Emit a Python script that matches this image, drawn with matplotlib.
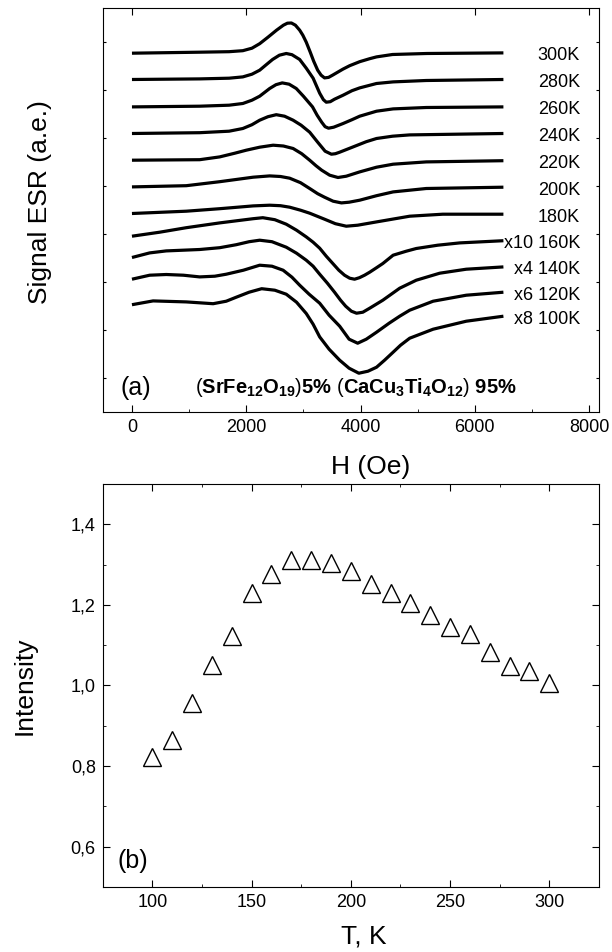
import matplotlib
matplotlib.use('Agg')
import matplotlib.pyplot as plt
from matplotlib.ticker import FuncFormatter, MultipleLocator

plt.rcParams['font.family'] = 'Liberation Sans'
plt.rcParams['mathtext.fontset'] = 'custom'
plt.rcParams['mathtext.rm'] = 'Liberation Sans'
plt.rcParams['mathtext.bf'] = 'Liberation Sans:bold'

# ESR spectra: H in Oe, signal in a.e. (curves already stacked)
h300 = [0, 1185, 1700, 1940, 2100, 2235, 2380, 2530, 2650, 2720, 2790, 2860, 2935, 2990, 3050,
        3120, 3180, 3250, 3310, 3370, 3440, 3510, 3600, 3690, 3810, 3985, 4160, 4280, 4560, 5160, 6500]
s300 = [359, 360, 360.5, 361.5, 364, 368.5, 375, 382, 387, 389, 389.2, 387, 382, 377, 370,
        360, 351, 342, 337, 334.3, 334.8, 337, 340, 343, 346.5, 350.5, 353.5, 355.3, 357.7, 358.7, 359.3]

h280 = [0, 1185, 1700, 1940, 2100, 2235, 2350, 2460, 2580, 2700, 2800, 2935, 3050, 3170, 3285,
        3350, 3400, 3470, 3545, 3695, 3850, 3985, 4280, 4570, 5150, 6500]
s280 = [332.7, 333.3, 334, 335.3, 338, 342, 347.5, 352.7, 357, 358.7, 357.5, 352.7, 344, 334, 319,
        312.5, 310, 310.5, 313, 317, 321.5, 324.3, 328.7, 330.3, 331.7, 332.7]

h260 = [0, 1185, 1700, 1940, 2100, 2235, 2410, 2520, 2630, 2750, 2875, 3000, 3160, 3240, 3320,
        3380, 3440, 3530, 3695, 3850, 3985, 4280, 4570, 5150, 6500]
s260 = [305.3, 306, 307, 308.7, 312, 316, 323.7, 327.5, 329.3, 328, 323.7, 316, 305.3, 297, 290,
        285.5, 284, 285, 288.7, 292.5, 296, 301, 303.3, 304.7, 305.3]

h240 = [0, 1185, 1700, 1940, 2100, 2235, 2380, 2525, 2670, 2820, 2960, 3110, 3250, 3380, 3490,
        3560, 3635, 3870, 4100, 4280, 4560, 4860, 6500]
s240 = [278.7, 279.5, 281, 283.7, 287.5, 292, 295.5, 297.5, 296, 292, 287, 280, 270, 261, 258,
        258.5, 260, 265.3, 270.5, 273.7, 276, 277.3, 278.7]

h220 = [0, 1185, 1535, 1800, 2000, 2235, 2470, 2650, 2820, 2970, 3110, 3220, 3320, 3460, 3605,
        3750, 3985, 4280, 4570, 5150, 6500]
s220 = [252, 252.5, 255.3, 259, 262, 265, 267, 266.2, 263.7, 258.5, 252, 246.5, 242, 237, 234.7,
        236, 240.3, 245, 248, 250.3, 251.5]

h200 = [0, 950, 1535, 2120, 2410, 2600, 2760, 2950, 3110, 3250, 3370, 3520, 3665, 3800, 3985,
        4280, 4570, 5150, 6500]
s200 = [225.3, 226.5, 230.5, 235, 236.3, 235.7, 234, 229.5, 223.7, 218.5, 215, 211, 209.3, 210, 212,
        216.5, 220.3, 223.7, 225]

h180 = [0, 950, 1535, 2120, 2410, 2600, 2760, 2950, 3110, 3370, 3560, 3750, 3950, 4280, 4860, 5440, 6500]
s180 = [198.7, 201, 203.5, 206.3, 207, 206.5, 205, 202, 199, 193, 188.5, 186, 187, 190.3, 196, 198, 198]

h160 = [0, 485, 950, 1535, 2120, 2290, 2500, 2700, 2880, 3050, 3170, 3285, 3400, 3510, 3620,
        3720, 3810, 3895, 3980, 4070, 4160, 4280, 4390, 4570, 4800, 4975, 5350, 5735, 6500]
s160 = [176, 180, 184.5, 189.3, 193.5, 194.5, 192.5, 188, 182, 175.3, 170, 164, 156, 149, 142,
        137, 134, 133, 134.5, 137, 140, 144.5, 148.7, 157, 161, 163.7, 167, 169.3, 171.5]

h140 = [0, 310, 600, 1185, 1535, 1825, 2050, 2235, 2450, 2700, 2880, 3050, 3170, 3285, 3420,
        3545, 3650, 3740, 3840, 3930, 4040, 4160, 4390, 4685, 4975, 5385, 5850, 6500]
s140 = [154.7, 159.3, 161.3, 162.7, 164.5, 167.5, 170.5, 172, 170.5, 165, 159, 152, 146, 138, 129,
        120, 112, 106, 101, 99, 100, 104, 112, 124, 132, 139, 143, 145.3]

h120 = [0, 310, 600, 900, 1185, 1450, 1650, 1950, 2235, 2450, 2645, 2800, 2935, 3100, 3285,
        3450, 3635, 3800, 3950, 4100, 4280, 4500, 4685, 4860, 5270, 5850, 6500]
s120 = [133, 137, 137.7, 137, 135.3, 136, 138, 142, 147, 146, 142, 135, 127, 118, 109,
        97, 86, 73, 69, 73, 80, 89, 96, 102, 111, 117, 120]

h100 = [0, 370, 950, 1420, 1650, 1825, 2050, 2270, 2500, 2700, 2880, 3050, 3170, 3285, 3450,
        3635, 3800, 3970, 4130, 4280, 4420, 4570, 4700, 4860, 5270, 5850, 6500]
s100 = [107.5, 111.3, 110.3, 108.5, 111, 115, 120, 123.5, 122, 118, 110, 98.7, 88, 75.3, 63,
        52, 44, 39, 41, 45, 52, 60, 67, 74, 83, 91, 96]

curve_labels = ['300K', '280K', '260K', '240K', '220K', '200K', '180K',
                'x10 160K', 'x4 140K', 'x6 120K', 'x8 100K']

# ESR intensity vs temperature
T = [100, 110, 120, 130, 140, 150, 160, 170, 180, 190, 200,
     210, 220, 230, 240, 250, 260, 270, 280, 290, 300]
intensity = [0.822, 0.864, 0.957, 1.050, 1.122, 1.230, 1.277, 1.312, 1.312, 1.303, 1.285,
             1.251, 1.229, 1.205, 1.176, 1.144, 1.129, 1.083, 1.048, 1.035, 1.005]

fig = plt.figure(figsize=(6.12, 9.52), dpi=100)
ax1 = fig.add_axes([0.168, 0.567, 0.8105, 0.4244])
ax2 = fig.add_axes([0.168, 0.0683, 0.8105, 0.4233])

spectra = [(h300, s300), (h280, s280), (h260, s260), (h240, s240), (h220, s220),
           (h200, s200), (h180, s180), (h160, s160), (h140, s140), (h120, s120),
           (h100, s100)]
for (h, s), lab in zip(spectra, curve_labels):
    ax1.plot(h, s, color='black', lw=2.3, solid_joinstyle='round', solid_capstyle='butt')
    ax1.text(7840, s[-1] - 3, lab, ha='right', va='center', fontsize=13)

ax1.set_xlim(-510, 8170)
ax1.set_ylim(0, 404)
ax1.set_xticks([0, 2000, 4000, 6000, 8000])
ax1.xaxis.set_minor_locator(MultipleLocator(1000))
ax1.set_yticks(range(34, 404, 48))
ax1.tick_params(axis='x', which='major', direction='in', top=True, length=5, labelsize=13, pad=5)
ax1.tick_params(axis='x', which='minor', direction='in', top=False, length=2.5)
ax1.tick_params(axis='y', direction='in', left=True, right=True, length=2.5, labelleft=False)
ax1.set_xlabel('H (Oe)', fontsize=19)
ax1.xaxis.set_label_coords(0.54, -0.105)
ax1.set_ylabel('Signal ESR (a.e.)', fontsize=19)
ax1.yaxis.set_label_coords(-0.103, 0.52)
ax1.text(0.066, 0.06, '(a)', transform=ax1.transAxes, ha='center', va='center', fontsize=18)
ax1.text(0.51, 0.06,
         r'$(\mathbf{SrFe_{12}O_{19}})\mathbf{5\%}$ $(\mathbf{CaCu_3Ti_4O_{12}})$ $\mathbf{95\%}$',
         transform=ax1.transAxes, ha='center', va='center', fontsize=14.5)

ax2.plot(T, intensity, ls='none', marker='^', ms=13, mfc='white', mec='black', mew=1.0)
ax2.set_xlim(75, 325)
ax2.set_ylim(0.5, 1.5)
ax2.set_xticks([100, 150, 200, 250, 300])
ax2.xaxis.set_minor_locator(MultipleLocator(25))
ax2.set_yticks([0.6, 0.8, 1.0, 1.2, 1.4])
ax2.yaxis.set_minor_locator(MultipleLocator(0.1))
ax2.yaxis.set_major_formatter(FuncFormatter(lambda v, p: f'{v:.1f}'.replace('.', ',')))
ax2.tick_params(which='major', direction='in', top=True, right=True, length=5, labelsize=13, pad=5)
ax2.tick_params(which='minor', direction='in', top=True, right=True, length=2.5)
ax2.set_xlabel('T, K', fontsize=19)
ax2.xaxis.set_label_coords(0.526, -0.094)
ax2.set_ylabel('Intensity', fontsize=19)
ax2.yaxis.set_label_coords(-0.133, 0.5)
ax2.text(0.06, 0.064, '(b)', transform=ax2.transAxes, ha='center', va='center', fontsize=18)

for ax in (ax1, ax2):
    for sp in ax.spines.values():
        sp.set_linewidth(0.8)

fig.savefig('out.png', dpi=100)
